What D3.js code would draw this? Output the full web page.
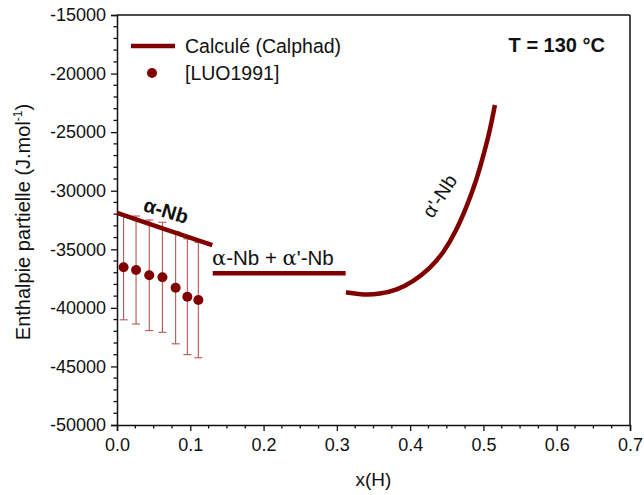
<!DOCTYPE html>
<html>
<head>
<meta charset="utf-8">
<script src="https://cdn.jsdelivr.net/npm/d3@7"></script>
<style>
  html, body { margin: 0; padding: 0; background: #fff; }
  svg text { font-family: "Liberation Sans", Arial, sans-serif; fill: #111; }
</style>
</head>
<body>
<svg id="chart" width="644" height="495"></svg>
<script>
// ---- data ----
const xTicks = [0.0, 0.1, 0.2, 0.3, 0.4, 0.5, 0.6, 0.7];
const yTicks = [-50000, -45000, -40000, -35000, -30000, -25000, -20000, -15000];

// Calphad: alpha-Nb solid solution
const alphaX = [0.0, 0.065, 0.13];
const alphaH = [-31900, -33270, -34650];
// Calphad: two-phase plateau
const twoPhaseX = [0.1306, 0.312];
const twoPhaseH = [-37050, -37050];
// Calphad: alpha'-Nb
const primeX = [0.3124, 0.336, 0.3588, 0.3816, 0.4042, 0.427, 0.4452, 0.4634, 0.4771, 0.4907, 0.502, 0.5089, 0.5157];
const primeH = [-38673, -38904, -38818, -38477, -37768, -36624, -35344, -33355, -31365, -29086, -26525, -24818, -22683];

// LUO1991 experimental points
const luoX = [0.009, 0.026, 0.044, 0.062, 0.080, 0.096, 0.111];
const luoH = [-36540, -36770, -37220, -37390, -38280, -39050, -39330];
const luoErr = [4480, 4610, 4720, 4700, 4790, 4940, 4930];

const legendLabels = ["Calculé (Calphad)", "[LUO1991]"];

// ---- layout ----
const svg = d3.select("#chart");
const L = 117, R = 630, T = 15, B = 425;
const red = "#800000";
const x = d3.scaleLinear().domain([0, 0.7]).range([L, R]);
const y = d3.scaleLinear().domain([-50000, -15000]).range([B, T]);

// frame (top, right)
svg.append("line").attr("x1", L).attr("x2", R).attr("y1", T).attr("y2", T)
  .attr("stroke", "#111").attr("stroke-width", 1.5);
svg.append("line").attr("x1", R).attr("x2", R).attr("y1", T).attr("y2", B)
  .attr("stroke", "#111").attr("stroke-width", 1.5);

// minor ticks
const xMinor = d3.range(0, 0.7001, 0.025).filter(v => Math.abs(v * 10 - Math.round(v * 10)) > 1e-6);
const yMinor = d3.range(-50000, -14999, 1000).filter(v => v % 5000 !== 0);

const xAxis = svg.append("g").attr("transform", `translate(0,${B})`)
  .call(d3.axisBottom(x).tickValues(xTicks).tickFormat(d => d.toFixed(1)).tickSizeOuter(0).tickSize(6).tickPadding(5));
svg.append("g").selectAll("line").data(xMinor).join("line")
  .attr("x1", d => x(d)).attr("x2", d => x(d)).attr("y1", B).attr("y2", B + 3.5)
  .attr("stroke", "#111").attr("stroke-width", 1.3);

const yAxis = svg.append("g").attr("transform", `translate(${L},0)`)
  .call(d3.axisLeft(y).tickValues(yTicks).tickFormat(d => String(d)).tickSizeOuter(0).tickSize(6).tickPadding(5));
svg.append("g").selectAll("line").data(yMinor).join("line")
  .attr("x1", L - 3.5).attr("x2", L).attr("y1", d => y(d)).attr("y2", d => y(d))
  .attr("stroke", "#111").attr("stroke-width", 1.3);

[xAxis, yAxis].forEach(g => {
  g.select(".domain").attr("stroke", "#111").attr("stroke-width", 1.5);
  g.selectAll(".tick line").attr("stroke", "#111").attr("stroke-width", 1.3);
  g.selectAll(".tick text").attr("font-size", 18).attr("fill", "#111")
    .style("font-family", "'Liberation Sans', Arial, sans-serif");
});
xAxis.selectAll(".tick text").attr("dy", "0.85em");

// axis titles
svg.append("text").attr("x", (L + R) / 2).attr("y", 486).attr("text-anchor", "middle")
  .attr("font-size", 19).text("x(H)");
const yl = svg.append("text").attr("transform", `translate(30,${(T + B) / 2 + 2}) rotate(-90)`)
  .attr("text-anchor", "middle").attr("font-size", 20);
yl.append("tspan").text("Enthalpie partielle (J.mol");
yl.append("tspan").attr("font-size", 12).attr("dy", -8).text("-1");
yl.append("tspan").attr("dy", 8).text(")");

// error bars
const errColor = "#b85555";
const eb = svg.append("g");
luoX.forEach((xv, i) => {
  const y0 = y(luoH[i] - luoErr[i]), y1 = y(luoH[i] + luoErr[i]);
  eb.append("line").attr("x1", x(xv)).attr("x2", x(xv)).attr("y1", y0).attr("y2", y1)
    .attr("stroke", errColor).attr("stroke-width", 1.1);
  [y0, y1].forEach(yy => eb.append("line").attr("x1", x(xv) - 4).attr("x2", x(xv) + 4)
    .attr("y1", yy).attr("y2", yy).attr("stroke", errColor).attr("stroke-width", 1.1));
});

// Calphad lines
const line = d3.line().x(d => x(d[0])).y(d => y(d[1]));
const lineSmooth = d3.line().x(d => x(d[0])).y(d => y(d[1])).curve(d3.curveBasis);
svg.append("path").attr("d", line(d3.zip(alphaX, alphaH)))
  .attr("fill", "none").attr("stroke", red).attr("stroke-width", 4.5);
svg.append("path").attr("d", line(d3.zip(twoPhaseX, twoPhaseH)))
  .attr("fill", "none").attr("stroke", red).attr("stroke-width", 4.5);
svg.append("path").attr("d", lineSmooth(d3.zip(primeX, primeH)))
  .attr("fill", "none").attr("stroke", red).attr("stroke-width", 4.5);

// points
svg.append("g").selectAll("circle").data(d3.zip(luoX, luoH)).join("circle")
  .attr("cx", d => x(d[0])).attr("cy", d => y(d[1])).attr("r", 5).attr("fill", red);

// annotations
svg.append("text").attr("transform", `translate(${x(0.067)},${y(-31700)}) rotate(17)`)
  .attr("text-anchor", "middle").attr("dy", "0.35em").attr("font-size", 20)
  .attr("font-weight", "bold").text("α-Nb");
svg.append("text").attr("transform", `translate(${x(0.440)},${y(-30452)}) rotate(-57)`)
  .attr("text-anchor", "middle").attr("dy", "0.35em").attr("font-size", 19.5).text("α'-Nb");
const tp = svg.append("text").attr("x", x(0.1296)).attr("y", y(-36342)).attr("font-size", 20.5);
tp.append("tspan").attr("font-family", "'DejaVu Serif', serif").attr("font-size", 21).text("α");
tp.append("tspan").text("-Nb + ");
tp.append("tspan").attr("font-family", "'DejaVu Serif', serif").attr("font-size", 21).text("α");
tp.append("tspan").text("'-Nb");
svg.append("text").attr("x", 605).attr("y", 52).attr("text-anchor", "end")
  .attr("font-size", 20).attr("font-weight", "bold").text("T = 130 °C");

// legend
svg.append("line").attr("x1", 131).attr("x2", 175).attr("y1", 46).attr("y2", 46)
  .attr("stroke", red).attr("stroke-width", 4.5);
svg.append("circle").attr("cx", 152).attr("cy", 73).attr("r", 5).attr("fill", red);
svg.append("text").attr("x", 185).attr("y", 53).attr("font-size", 19.5).text(legendLabels[0]);
svg.append("text").attr("x", 185).attr("y", 80).attr("font-size", 19.5).text(legendLabels[1]);
</script>
</body>
</html>
